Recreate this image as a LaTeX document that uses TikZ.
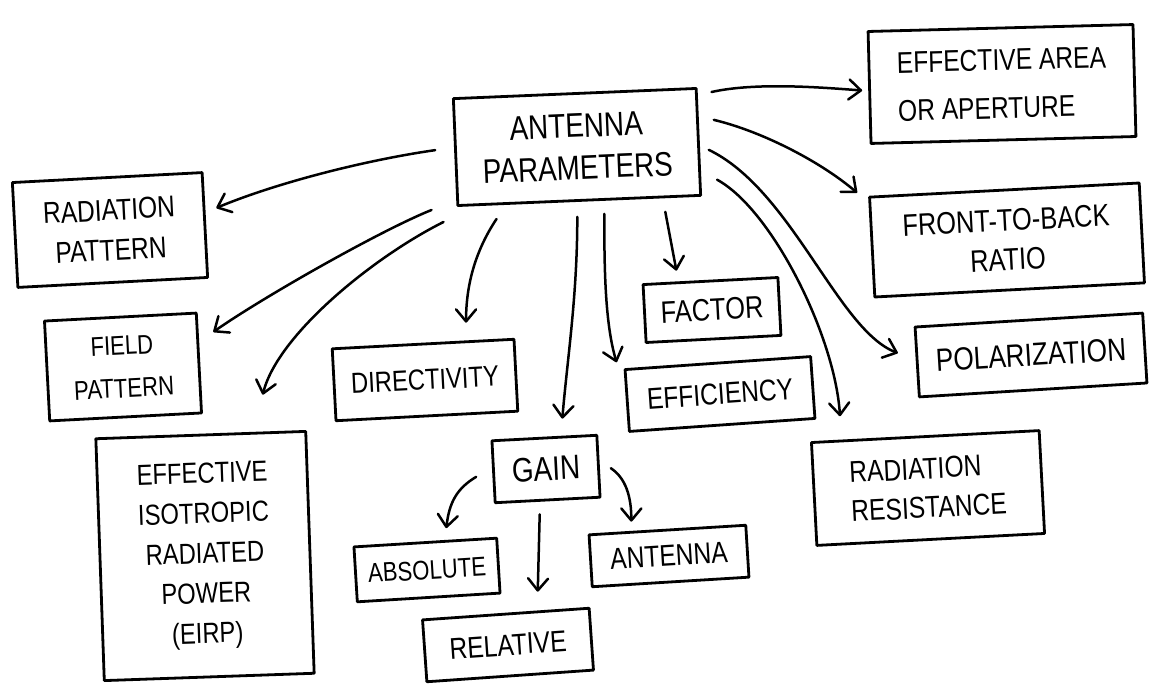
\documentclass[tikz,border=0pt]{standalone}
\usepackage{fontspec}
\setmainfont{Liberation Sans}[FakeStretch=0.82]
\usetikzlibrary{arrows.meta,calc}
\begin{document}
\begin{tikzpicture}[x=1pt,y=-1pt,
  box/.style={draw, line width=2.8pt, line join=round, rectangle, inner sep=0pt, align=center},
  arr/.style={line width=2.5pt, line cap=round, -{Straight Barb[length=12pt,width=20pt,line cap=round,line join=round]}}
]
\useasboundingbox (0,0) rectangle (1158,695);

% nodes
\node[box, rotate=2.4, minimum width=243pt, minimum height=107pt, font=\fontsize{34}{42}\selectfont] (ap) at (577,147) {ANTENNA\\PARAMETERS};
\node[box, rotate=1.5, minimum width=265pt, minimum height=112pt, align=left, font=\fontsize{30}{48}\selectfont] (ea) at (1002,84) {EFFECTIVE AREA\\OR APERTURE};
\node[box, rotate=3, minimum width=190pt, minimum height=105pt, font=\fontsize{30}{40}\selectfont] (rp) at (110,230) {RADIATION\\PATTERN};
\node[box, rotate=3, minimum width=152pt, minimum height=100pt, font=\fontsize{27}{43}\selectfont] (fp) at (123,367) {FIELD\\PATTERN};
\node[box, rotate=2, minimum width=210pt, minimum height=242pt, font=\fontsize{29}{40}\selectfont] (eirp) at (205,556) {EFFECTIVE\\ISOTROPIC\\RADIATED\\POWER\\(EIRP)};
\node[box, rotate=3, minimum width=182pt, minimum height=72pt, font=\fontsize{29}{30}\selectfont] (dir) at (425,380) {DIRECTIVITY};
\node[box, rotate=3, minimum width=135pt, minimum height=58pt, font=\fontsize{31}{30}\selectfont] (fac) at (712,310) {FACTOR};
\node[box, rotate=4, minimum width=186pt, minimum height=62pt, font=\fontsize{30}{30}\selectfont] (eff) at (720,394) {EFFICIENCY};
\node[box, rotate=3, minimum width=270pt, minimum height=100pt, font=\fontsize{31}{39}\selectfont] (ftb) at (1007,240) {FRONT-TO-BACK\\RATIO};
\node[box, rotate=3.5, minimum width=228pt, minimum height=70pt, font=\fontsize{32}{30}\selectfont] (pol) at (1031,355) {POLARIZATION};
\node[box, rotate=3, minimum width=228pt, minimum height=103pt, align=left, font=\fontsize{30}{39}\selectfont] (rr) at (928,488) {RADIATION\\RESISTANCE};
\node[box, rotate=3, minimum width=105pt, minimum height=62pt, font=\fontsize{34}{30}\selectfont] (gain) at (546,469) {GAIN};
\node[box, rotate=3.5, minimum width=143pt, minimum height=55pt, font=\fontsize{27}{30}\selectfont] (abs) at (427,570) {ABSOLUTE};
\node[box, rotate=4, minimum width=167pt, minimum height=62pt, font=\fontsize{30}{30}\selectfont] (rel) at (508,645) {RELATIVE};
\node[box, rotate=3.5, minimum width=157pt, minimum height=52pt, font=\fontsize{30}{30}\selectfont] (ant) at (669,556) {ANTENNA};

% connectors from antenna parameters
\draw[arr] ([shift={(14,5)}]ap.north east) .. controls +(45,-10) and +(-40,-3) .. ([shift={(-6,3)}]ea.west);
\draw[arr] ([shift={(14,-22)}]ap.east) .. controls +(50,12) and +(-35,-30) .. ([shift={(-11,-3)}]ftb.north west);
\draw[arr] ([shift={(9,8)}]ap.east) .. controls +(83,40) and +(-60,-23) .. ([shift={(-18,-9)}]pol.west);
\draw[arr] ([shift={(15,-17)}]ap.south east) .. controls +(55,30) and +(-5,-80) .. ([shift={(30,-25)}]rr.north west);
\draw[arr] ([shift={(86,10)}]ap.south) -- ([shift={(-34,-9)}]fac.north);
\draw[arr] ([shift={(25,12)}]ap.south) .. controls +(0,50) and +(-12,-40) .. ([shift={(-7,-6)}]eff.north west);
\draw[arr] ([shift={(-2,15)}]ap.south) .. controls +(0,80) and +(5,-60) .. ([shift={(18,-18)}]gain.north);
\draw[arr] ([shift={(40,12)}]ap.south west) .. controls +(-20,30) and +(0,-40) .. ([shift={(43,-20)}]dir.north);
\draw[arr] ([shift={(-19,-2)}]ap.west) .. controls +(-70,10) and +(60,-25) .. ([shift={(10,-17)}]rp.east);
\draw[arr] ([shift={(-25,3)}]ap.south west) .. controls +(-50,20) and +(50,-35) .. ([shift={(13,-31)}]fp.east);
\draw[arr] ([shift={(-13,15)}]ap.south west) .. controls +(-70,35) and +(15,-60) .. ([shift={(62,-39)}]eirp.north);

% connectors from gain
\draw[arr] ([shift={(-16,5)}]gain.west) .. controls +(-20,12) and +(3,-25) .. ([shift={(21,-13)}]abs.north);
\draw[arr] ([shift={(-8,13)}]gain.south) -- ([shift={(32,-21)}]rel.north);
\draw[arr] ([shift={(11,2)}]gain.east) .. controls +(15,10) and +(0,-25) .. ([shift={(-36,-7)}]ant.north);
\end{tikzpicture}
\end{document}
